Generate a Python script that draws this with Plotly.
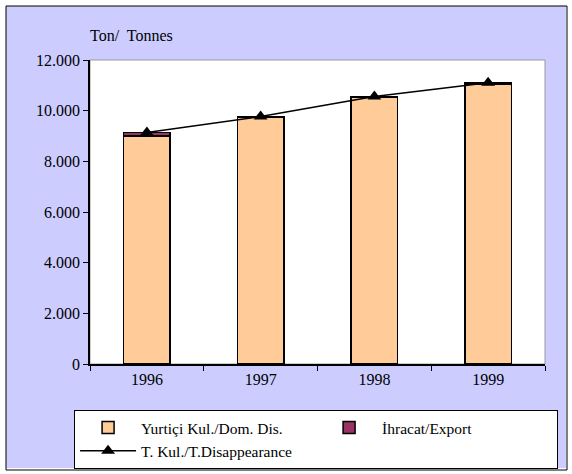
import plotly.graph_objects as go

# data
years = ["1996", "1997", "1998", "1999"]
domestic = [9000, 9730, 10520, 11060]
export = [140, 40, 40, 40]
total = [9140, 9770, 10560, 11100]

y_ticks = [0, 2000, 4000, 6000, 8000, 10000, 12000]

serif = "'Times New Roman', 'Liberation Serif', serif"

fig = go.Figure()
fig.add_trace(go.Bar(
    x=years, y=domestic, name="Yurtiçi Kul./Dom. Dis.",
    marker=dict(color="#FFCC99", line=dict(color="black", width=1.5)),
    width=0.41,
))
fig.add_trace(go.Bar(
    x=years, y=export, name="İhracat/Export",
    marker=dict(color="#993366", line=dict(color="black", width=1.5)),
    width=0.41,
))
fig.add_trace(go.Scatter(
    x=years, y=total, name="T. Kul./T.Disappearance",
    mode="lines+markers",
    line=dict(color="black", width=1.5),
    marker=dict(symbol="triangle-up", size=12, color="black"),
))

fig.update_layout(
    width=572, height=474,
    barmode="stack",
    separators=",.",
    paper_bgcolor="#CCCCFF",
    plot_bgcolor="white",
    margin=dict(l=90, r=27, t=60, b=110, autoexpand=False),
    font=dict(family=serif, size=16, color="black"),
    showlegend=True,
    legend=dict(
        orientation="h", x=-0.035, y=-0.151, xanchor="left", yanchor="top",
        bgcolor="white", bordercolor="black", borderwidth=1,
        itemwidth=56, entrywidth=170, traceorder="normal", tracegroupgap=0,
        font=dict(family=serif, size=15.5),
    ),
    xaxis=dict(
        showline=True, linecolor="black", linewidth=1.5,
        ticks="outside", tickson="boundaries", ticklen=5, tickcolor="black",
        showgrid=False,
    ),
    yaxis=dict(
        range=[0, 12000], tickvals=y_ticks, tickformat=",d",
        showline=True, linecolor="black", linewidth=1.5,
        ticks="outside", ticklen=5, tickcolor="black",
        showgrid=False, zeroline=False,
    ),
    annotations=[dict(
        text="Ton/  Tonnes", xref="paper", yref="paper",
        x=-0.005, y=1.079, xanchor="left", yanchor="middle",
        showarrow=False, font=dict(family=serif, size=16),
    )],
    shapes=[
        # grey frame of the plot area
        dict(type="rect", xref="paper", yref="paper", x0=0, y0=0, x1=1, y1=1,
             line=dict(color="#999999", width=1), layer="below"),
        # white outer margin and black frame of the chart
        dict(type="rect", xref="paper", yref="paper",
             x0=-90 / 455, x1=482 / 455, y0=-110 / 304, y1=364 / 304,
             line=dict(color="white", width=12), layer="above"),
        dict(type="rect", xref="paper", yref="paper",
             x0=-84 / 455, x1=477 / 455, y0=-106 / 304, y1=358 / 304,
             line=dict(color="black", width=1), layer="above"),
    ],
)

fig.write_html("out.html", config={"displayModeBar": False},
               post_script="document.body.style.margin='0';")
